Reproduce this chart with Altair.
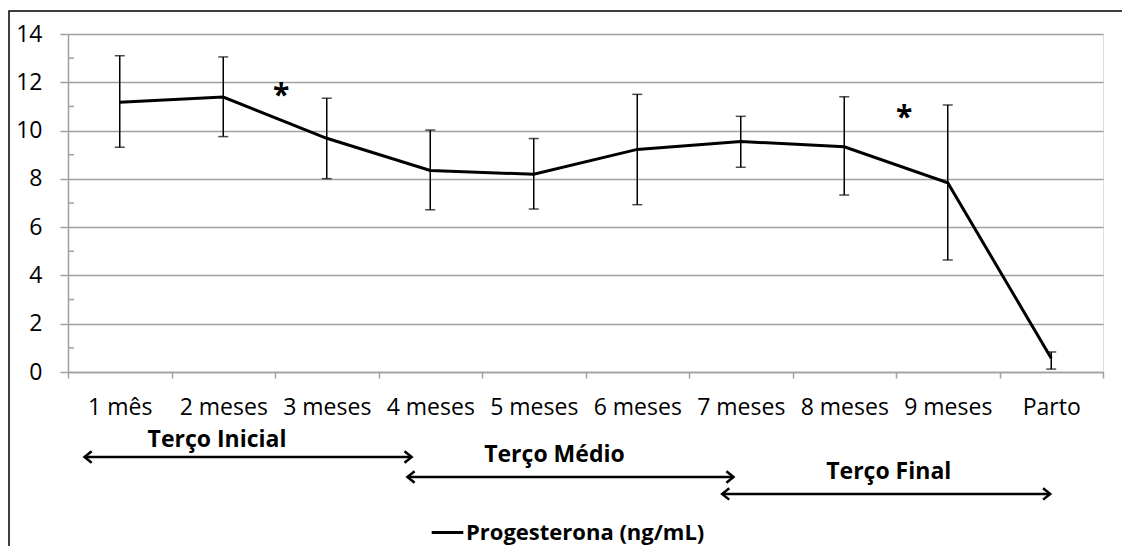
import altair as alt
import pandas as pd

categories = ["1 mês", "2 meses", "3 meses", "4 meses", "5 meses",
              "6 meses", "7 meses", "8 meses", "9 meses", "Parto"]
means = [11.17, 11.39, 9.68, 8.35, 8.19, 9.22, 9.55, 9.33, 7.84, 0.57]
upper = [13.10, 13.05, 11.34, 10.02, 9.67, 11.50, 10.59, 11.40, 11.06, 0.83]
lower = [9.31, 9.75, 8.01, 6.72, 6.75, 6.93, 8.48, 7.33, 4.64, 0.12]
series_name = "Progesterona (ng/mL)"

# annotations (in data units)
period_labels = ["Terço Inicial", "Terço Médio", "Terço Final"]
period_label_x = [1.44, 4.70, 7.93]
period_label_y = [-2.82, -3.44, -4.14]
arrow_x1 = [0.16, 3.28, 6.32]
arrow_x2 = [3.32, 6.43, 9.49]
arrow_y = [-3.52, -4.35, -5.05]
star_x = [2.06, 8.08]
star_y = [11.76, 10.85]

W, H = 1035, 338
band = W / 10
FONT = "Open Sans"
GRAY = "#a0a0a0"

df = pd.DataFrame({
    "pos": [i + 0.5 for i in range(len(categories))],
    "cat": categories,
    "mean": means,
    "hi": upper,
    "lo": lower,
    "serie": [series_name] * len(categories),
})
minor = pd.DataFrame({"v": [1, 3, 5, 7, 9, 11, 13]})
periods = pd.DataFrame({"label": period_labels, "x": period_label_x, "y": period_label_y})
arrows = pd.DataFrame({"x1": arrow_x1, "x2": arrow_x2, "y": arrow_y})
stars = pd.DataFrame({"x": star_x, "y": star_y, "t": ["*", "*"]})
frame = pd.DataFrame({"a": [0]})

xs = alt.Scale(domain=[0, 10], nice=False, zero=False)
ys = alt.Scale(domain=[0, 14], nice=False)

label_expr = "[" + ",".join("'" + c + "'" for c in categories) + ",''][datum.value]"

x_axis = alt.Axis(values=list(range(11)), labelExpr=label_expr, labelOffset=band / 2,
                  tickSize=6, tickColor=GRAY, domainColor=GRAY, tickWidth=1.5, domainWidth=1.5,
                  grid=False, title=None, labelFont=FONT, labelFontSize=23, labelColor="black",
                  labelPadding=18, labelAngle=0, labelFlush=False, labelOverlap=False)
y_axis = alt.Axis(values=list(range(0, 15, 2)), grid=True, gridColor=GRAY, gridWidth=1.5,
                  tickSize=8, tickColor=GRAY, tickWidth=1.5, domainColor=GRAY, domainWidth=1.5,
                  labelPadding=18, labelFont=FONT, labelFontSize=23, labelColor="black",
                  title=None)

base_line = alt.Chart(df).mark_line(strokeWidth=3).encode(
    x=alt.X("pos:Q", scale=xs, axis=x_axis),
    y=alt.Y("mean:Q", scale=ys, axis=y_axis),
    color=alt.Color("serie:N", scale=alt.Scale(domain=[series_name], range=["black"]),
                    legend=alt.Legend(orient="none", legendX=362, legendY=481, title=None,
                                      symbolType="stroke", symbolStrokeWidth=3, symbolSize=1000,
                                      labelFont=FONT, labelFontWeight="bold", labelFontSize=22,
                                      labelColor="black", labelOffset=1, labelLimit=500)),
)

err = alt.Chart(df).mark_rule(color="black", strokeWidth=1.5).encode(
    x=alt.X("pos:Q", scale=xs), y=alt.Y("lo:Q", scale=ys), y2="hi:Q")
cap_hi = alt.Chart(df).mark_tick(color="black", orient="horizontal", size=10, thickness=1.5).encode(
    x=alt.X("pos:Q", scale=xs), y=alt.Y("hi:Q", scale=ys))
cap_lo = alt.Chart(df).mark_tick(color="black", orient="horizontal", size=10, thickness=1.5).encode(
    x=alt.X("pos:Q", scale=xs), y=alt.Y("lo:Q", scale=ys))

minor_ticks = alt.Chart(minor).mark_rule(color=GRAY, strokeWidth=1.5).encode(
    x=alt.value(0), x2=alt.value(6), y=alt.Y("v:Q", scale=ys))

arrow_lines = alt.Chart(arrows).mark_rule(color="black", strokeWidth=2.5).encode(
    x=alt.X("x1:Q", scale=xs), x2="x2:Q", y=alt.Y("y:Q", scale=ys))
head_r = alt.Chart(arrows).mark_point(shape="M-1.5,-1.2L0,0L-1.5,1.2", size=90, filled=False,
                                      color="black", strokeWidth=2.5, opacity=1).encode(
    x=alt.X("x2:Q", scale=xs), y=alt.Y("y:Q", scale=ys))
head_l = alt.Chart(arrows).mark_point(shape="M1.5,-1.2L0,0L1.5,1.2", size=90, filled=False,
                                      color="black", strokeWidth=2.5, opacity=1).encode(
    x=alt.X("x1:Q", scale=xs), y=alt.Y("y:Q", scale=ys))

period_text = alt.Chart(periods).mark_text(font=FONT, fontWeight="bold", fontSize=23,
                                           align="center", baseline="middle", color="black").encode(
    x=alt.X("x:Q", scale=xs), y=alt.Y("y:Q", scale=ys), text="label:N")

star_text = alt.Chart(stars).mark_text(font=FONT, fontWeight="bold", fontSize=30,
                                       align="center", baseline="middle", dy=8, color="black").encode(
    x=alt.X("x:Q", scale=xs), y=alt.Y("y:Q", scale=ys), text="t:N")

frame_rect = alt.Chart(frame).mark_rect(fill="transparent", stroke="black", strokeWidth=1.5).encode(
    x=alt.value(-59), x2=alt.value(W + 300), y=alt.value(-23), y2=alt.value(H + 400))

chart = alt.layer(
    frame_rect, minor_ticks, err, cap_hi, cap_lo, base_line,
    arrow_lines, head_r, head_l, period_text, star_text
).properties(
    width=W, height=H,
    autosize=alt.AutoSizeParams(type="none"),
    padding={"left": 60, "top": 26, "right": 19, "bottom": 174},
).configure_view(fill="#e0e0e0", stroke="transparent").configure(background="white")

chart.save("out.html", embed_options={"renderer": "svg", "actions": False})
